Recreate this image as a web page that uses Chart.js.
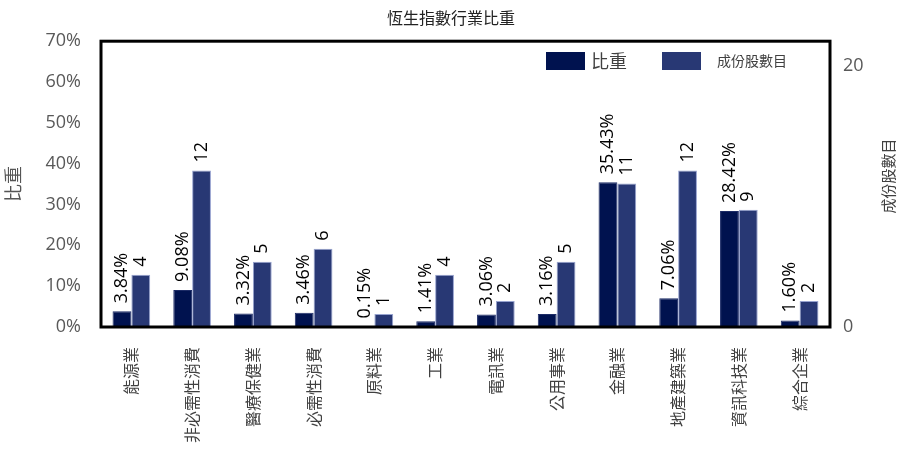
<!DOCTYPE html>
<html>
<head>
<meta charset="utf-8">
<script src="https://cdn.jsdelivr.net/npm/chart.js@4"></script>
<style>
html,body{margin:0;padding:0;background:#fff;}
#wrap{width:902px;height:463px;position:relative;}
</style>
</head>
<body>
<div id="wrap"><canvas id="c" width="902" height="463"></canvas></div>
<script>
const categories = ['能源業','非必需性消費','醫療保健業','必需性消費','原料業','工業','電訊業','公用事業','金融業','地產建築業','資訊科技業','綜合企業'];
const weights = [3.84, 9.08, 3.32, 3.46, 0.15, 1.41, 3.06, 3.16, 35.43, 7.06, 28.42, 1.60];
const constituents = [4, 12, 5, 6, 1, 4, 2, 5, 11, 12, 9, 2];
const leftTicks = [0, 10, 20, 30, 40, 50, 60, 70];
const rightTicks = [0, 20];
const chartTitle = '恆生指數行業比重';
const seriesNames = ['比重', '成份股數目'];

const FONT = "'Open Sans','Noto Sans CJK TC',sans-serif";
const CJK = "'Noto Sans CJK TC','Open Sans',sans-serif";
const DARK = '#00124f';
const BLUE = '#283874';

const overlay = {
  id: 'overlay',
  afterDatasetsDraw(chart) {
    const ctx = chart.ctx;
    const a = chart.chartArea;
    ctx.save();
    ctx.fillStyle = '#000';
    ctx.font = '18px ' + FONT;
    ctx.textAlign = 'left';
    ctx.textBaseline = 'middle';
    chart.data.datasets.forEach((ds, i) => {
      const meta = chart.getDatasetMeta(i);
      meta.data.forEach((bar, j) => {
        const v = ds.data[j];
        const txt = i === 0 ? v.toFixed(2) + '%' : String(v);
        ctx.save();
        ctx.translate(bar.x, bar.y - 8);
        ctx.rotate(-Math.PI / 2);
        ctx.fillText(txt, 0, 0);
        ctx.restore();
      });
    });
    ctx.restore();
    ctx.save();
    ctx.strokeStyle = '#000';
    ctx.lineWidth = 3;
    ctx.strokeRect(a.left, a.top, a.right - a.left, a.bottom - a.top);
    ctx.restore();
  },
  afterDraw(chart) {
    const ctx = chart.ctx;
    const a = chart.chartArea;
    const ds = chart.data.datasets;
    const items = [
      {bx: 546, tx: 591, size: 18},
      {bx: 662, tx: 717, size: 14}
    ];
    ctx.save();
    items.forEach((it, i) => {
      ctx.fillStyle = ds[i].backgroundColor;
      ctx.fillRect(it.bx, 52, 39, 18);
      ctx.fillStyle = '#404040';
      ctx.font = it.size + 'px ' + CJK;
      ctx.textAlign = 'left';
      ctx.textBaseline = 'middle';
      ctx.fillText(ds[i].label, it.tx, 61);
    });
    const t = chart.options.scales.y1.title;
    ctx.fillStyle = '#404040';
    ctx.font = '15px ' + CJK;
    ctx.textAlign = 'center';
    ctx.textBaseline = 'middle';
    ctx.translate(888, (a.top + a.bottom) / 2 - 8);
    ctx.rotate(-Math.PI / 2);
    ctx.fillText(t.text, 0, 0);
    ctx.restore();
  }
};

new Chart(document.getElementById('c'), {
  type: 'bar',
  data: {
    labels: categories,
    datasets: [
      {label: seriesNames[0], data: weights, yAxisID: 'y', backgroundColor: DARK, borderColor: '#1c2b66', borderWidth: 1},
      {label: seriesNames[1], data: constituents, yAxisID: 'y1', backgroundColor: BLUE, borderColor: '#97a3cf', borderWidth: 1}
    ]
  },
  options: {
    responsive: false,
    animation: false,
    devicePixelRatio: 1,
    layout: {padding: 0},
    categoryPercentage: 0.62,
    barPercentage: 1.0,
    plugins: {
      legend: {display: false},
      tooltip: {enabled: false},
      title: {
        display: true,
        text: chartTitle,
        color: '#222',
        font: {family: CJK, size: 16, weight: 'normal', lineHeight: 1.2},
        padding: {top: 8, bottom: 14}
      }
    },
    scales: {
      x: {
        grid: {display: false, drawTicks: false},
        border: {display: false},
        ticks: {
          autoSkip: false, maxRotation: 90, minRotation: 90,
          color: '#404040', padding: 20,
          font: {family: CJK, size: 16}
        },
        afterFit(s) { s.height = 136; }
      },
      y: {
        position: 'left',
        min: 0, max: 70,
        grid: {display: false, drawTicks: false},
        border: {display: false},
        ticks: {
          stepSize: 10, color: '#595959', padding: 20,
          font: {family: FONT, size: 18},
          callback: v => v + '%'
        },
        afterBuildTicks(s) { s.ticks = leftTicks.map(v => ({value: v})); },
        title: {display: true, text: seriesNames[0], color: '#555', font: {family: CJK, size: 18}, padding: {top: 2, bottom: 0}},
        afterFit(s) { s.width = 101; }
      },
      y1: {
        position: 'right',
        min: 0, max: 21.92,
        grid: {display: false, drawTicks: false},
        border: {display: false},
        ticks: {
          color: '#595959', padding: 13,
          font: {family: FONT, size: 18}
        },
        afterBuildTicks(s) { s.ticks = rightTicks.map(v => ({value: v})); },
        title: {display: false, text: seriesNames[1]},
        afterFit(s) { s.width = 72; }
      }
    }
  },
  plugins: [overlay]
});
</script>
</body>
</html>
